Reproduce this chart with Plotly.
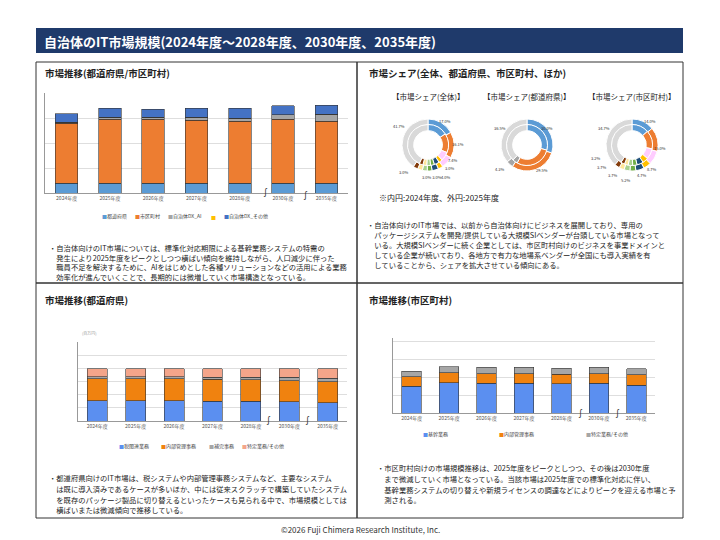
import plotly.graph_objects as go

W, H = 720, 540
OFF = 8  # browser body margin
def X(px): return (px - OFF) / W
def Y(py): return 1 - (py - OFF) / H

years = ["2024年度", "2025年度", "2026年度", "2027年度", "2028年度", "2030年度", "2035年度"]

# Chart 1: 都道府県/市区町村
c1_names = ["都道府県", "市区町村", "自治体DX_AI", "", "自治体DX_その他"]
c1_pref = [0.40, 0.40, 0.40, 0.40, 0.40, 0.40, 0.40]
c1_muni = [2.40, 2.56, 2.56, 2.51, 2.48, 2.55, 2.47]
c1_ai = [0.04, 0.08, 0.07, 0.12, 0.11, 0.19, 0.29]
c1_yel = [0.0, 0.0, 0.0, 0.0, 0.0, 0.0, 0.0]
c1_other = [0.33, 0.36, 0.33, 0.37, 0.41, 0.35, 0.36]
c1_colors = ["#5b9bd5", "#ed7d31", "#a5a5a5", "#ffc000", "#4472c4"]

# Chart 3: 都道府県
c3_names = ["税関連業務", "内部管理事務", "補完事務", "特定業務/その他"]
c3_tax = [1.52, 1.52, 1.52, 1.50, 1.50, 1.45, 1.40]
c3_int = [1.68, 1.68, 1.68, 1.66, 1.64, 1.62, 1.60]
c3_sup = [0.15, 0.15, 0.15, 0.17, 0.18, 0.25, 0.25]
c3_spc = [0.63, 0.63, 0.63, 0.64, 0.65, 0.65, 0.72]
c3_colors = ["#5b8ff0", "#f0820f", "#a6a6a6", "#f4a58a"]

# Chart 4: 市区町村
c4_names = ["基幹業務", "内部管理事務", "特定業務/その他"]
c4_core = [1.50, 1.70, 1.68, 1.68, 1.64, 1.68, 1.55]
c4_int = [0.53, 0.55, 0.53, 0.53, 0.53, 0.53, 0.58]
c4_spc = [0.32, 0.34, 0.34, 0.34, 0.34, 0.34, 0.34]
c4_colors = ["#5b8ff0", "#f0820f", "#a6a6a6"]

# Donuts
share_colors = ["#5b9bd5", "#ed7d31", "#ffccff", "#ffc000", "#1f4e79", "#70ad47",
                "#a9d18e", "#ffe699", "#843c0c", "#d9d9d9"]
all_out = [17.0, 16.1, 7.4, 3.0, 4.0, 3.0, 3.0, 3.0, 3.0, 40.5]
all_in = [16.0, 15.0, 7.0, 3.0, 4.0, 3.0, 3.0, 3.0, 3.0, 43.0]
pref_colors = ["#5b9bd5", "#ed7d31", "#a5a5a5", "#d9d9d9"]
pref_out = [30.0, 29.5, 4.3, 36.2]
pref_in = [29.0, 29.0, 4.0, 38.0]
muni_out = [14.0, 15.0, 8.7, 4.7, 5.2, 3.7, 3.7, 3.2, 3.2, 38.6]
muni_in = [13.5, 14.5, 8.5, 4.5, 5.0, 3.5, 3.5, 3.0, 3.0, 41.0]

fig = go.Figure()
font = "Noto Sans CJK JP"

def bars(names, series, colors, xa, ya):
    for n, s, c in zip(names, series, colors):
        fig.add_trace(go.Bar(x=years, y=s, name=n, marker=dict(color=c, line=dict(color="#333", width=0.6)),
                             width=0.52, xaxis=xa, yaxis=ya, showlegend=False))

bars(c1_names, [c1_pref, c1_muni, c1_ai, c1_yel, c1_other], c1_colors, "x", "y")
bars(c3_names, [c3_tax, c3_int, c3_sup, c3_spc], c3_colors, "x2", "y2")
bars(c4_names, [c4_core, c4_int, c4_spc], c4_colors, "x3", "y3")

def axes(i, x0, x1, y0, y1, rng, dt):
    xs = "xaxis" if i == 1 else f"xaxis{i}"
    ys = "yaxis" if i == 1 else f"yaxis{i}"
    fig.layout[xs] = dict(domain=[X(x0), X(x1)], anchor="y" if i == 1 else f"y{i}",
                          tickfont=dict(size=5, color="#555"), showline=True, linecolor="#999",
                          ticks="", fixedrange=True)
    fig.layout[ys] = dict(domain=[Y(y1), Y(y0)], anchor="x" if i == 1 else f"x{i}", range=rng, dtick=dt,
                          showticklabels=False, gridcolor="#dedede", showline=True, linecolor="#999",
                          zeroline=False)

axes(1, 45, 348, 93, 193, [0, 4], 1)
axes(2, 78, 347, 342, 421, [0, 6], 1)
axes(3, 393, 655, 338, 413, [0, 4.2], 1)
fig.update_layout(barmode="stack")

def donut(vals_out, vals_in, colors, cx, cy):
    ro, ri = 26, 20.5
    fig.add_trace(go.Pie(values=vals_out, marker=dict(colors=colors, line=dict(color="white", width=1)),
                         hole=0.78, sort=False, direction="clockwise", rotation=0, textinfo="none",
                         domain=dict(x=[X(cx - ro), X(cx + ro)], y=[Y(cy + ro), Y(cy - ro)]), showlegend=False))
    fig.add_trace(go.Pie(values=vals_in, marker=dict(colors=colors, line=dict(color="white", width=1)),
                         hole=0.7, sort=False, direction="clockwise", rotation=0, textinfo="none",
                         domain=dict(x=[X(cx - ri), X(cx + ri)], y=[Y(cy + ri), Y(cy - ri)]), showlegend=False))

donut(all_out, all_in, share_colors, 428, 145)
donut(pref_out, pref_in, pref_colors, 527, 145)
donut(muni_out, muni_in, share_colors, 632, 145)

ann = []
def T(px, py, text, size=7.5, color="#222", xanchor="left", bold=False):
    if bold:
        text = f"<b>{text}</b>"
    ann.append(dict(x=X(px), y=Y(py), xref="paper", yref="paper", text=text, showarrow=False,
                    xanchor=xanchor, yanchor="middle", font=dict(size=size, color=color, family=font)))

shapes = []
shapes.append(dict(type="rect", xref="paper", yref="paper", x0=X(36), x1=X(683), y0=Y(53), y1=Y(28),
                   fillcolor="#1f3a6b", line=dict(width=0)))
for (a, b, c, d) in [(36, 62, 357, 283), (357, 62, 683, 283), (36, 283, 357, 518), (357, 283, 683, 518)]:
    shapes.append(dict(type="rect", xref="paper", yref="paper", x0=X(a), x1=X(c), y0=Y(d), y1=Y(b),
                       line=dict(color="#333", width=1)))

T(42, 41, "自治体のIT市場規模(2024年度～2028年度、2030年度、2035年度)", size=13, color="white", bold=True)
T(43, 73, "市場推移(都道府県/市区町村)", size=9.5, bold=True)
T(367, 73, "市場シェア(全体、都道府県、市区町村、ほか)", size=9.5, bold=True)
T(43, 300, "市場推移(都道府県)", size=9.5, bold=True)
T(367, 300, "市場推移(市区町村)", size=9.5, bold=True)

T(428, 97, "【市場シェア(全体)】", size=7.5, xanchor="center")
T(527, 97, "【市場シェア(都道府県)】", size=7.5, xanchor="center")
T(632, 97, "【市場シェア(市区町村)】", size=7.5, xanchor="center")
T(377, 197, "※内円:2024年度、外円:2025年度", size=8)

def legend(items, py):
    for (px, col, lab) in items:
        T(px, py, f'<span style="color:{col}">■</span>{lab}', size=5, color="#444")

legend([(100, c1_colors[0], "都道府県"), (133, c1_colors[1], "市区町村"), (166, c1_colors[2], "自治体DX_AI"),
        (209, c1_colors[3], ""), (222, c1_colors[4], "自治体DX_その他")], 216)
legend([(117, c3_colors[0], "税関連業務"), (159, c3_colors[1], "内部管理事務"), (207, c3_colors[2], "補完事務"),
        (240, c3_colors[3], "特定業務/その他")], 446)
legend([(421, c4_colors[0], "基幹業務"), (497, c4_colors[1], "内部管理事務"), (584, c4_colors[2], "特定業務/その他")], 434)

T(80, 333, "(百万円)", size=4, color="#999")

# break marks
for (px, py) in [(265, 192), (305, 195), (268, 420), (307, 420), (580, 413), (617, 413)]:
    T(px, py, "∫", size=9, color="#333", xanchor="center")

# donut labels
for (px, py, t) in [(445, 121, "17.0%"), (458, 144, "16.1%"), (453, 160, "7.4%"), (450, 168, "3.0%"),
                    (446, 177, "4.0%"), (432, 177, "3.0% 3.0%"), (404, 172, "3.0%"), (399, 126, "41.7%"),
                    (547, 128, "30.0%"), (542, 170, "29.5%"), (500, 169, "4.3%"), (500, 128, "36.5%"),
                    (650, 121, "14.0%"), (660, 148, "15.0%"), (652, 169, "8.7%"), (642, 175, "4.7%"),
                    (626, 180, "5.2%"), (613, 175, "3.7%"), (602, 167, "3.7%"), (596, 158, "3.2%"),
                    (604, 128, "34.7%")]:
    T(px, py, t, size=4, color="#333", xanchor="center")

tl = ["・自治体向けのIT市場については、標準化対応期限による基幹業務システムの特需の",
      "　発生により2025年度をピークとしつつ横ばい傾向を維持しながら、人口減少に伴った",
      "　職員不足を解決するために、AIをはじめとした各種ソリューションなどの活用による業務",
      "　効率化が進んでいくことで、長期的には微増していく市場構造となっている。"]
tr = ["・自治体向けのIT市場では、以前から自治体向けにビジネスを展開しており、専用の",
      "　パッケージシステムを開発/提供している大規模SIベンダーが台頭している市場となって",
      "　いる。大規模SIベンダーに続く企業としては、市区町村向けのビジネスを事業ドメインと",
      "　している企業が続いており、各地方で有力な地場系ベンダーが全国にも導入実績を有",
      "　していることから、シェアを拡大させている傾向にある。"]
bl = ["・都道府県向けのIT市場は、税システムや内部管理事務システムなど、主要なシステム",
      "　は既に導入済みであるケースが多いほか、中には従来スクラッチで構築していたシステム",
      "　を既存のパッケージ製品に切り替えるといったケースも見られる中で、市場規模としては",
      "　横ばいまたは微減傾向で推移している。"]
br = ["・市区町村向けの市場規模推移は、2025年度をピークとしつつ、その後は2030年度",
      "　まで微減していく市場となっている。当該市場は2025年度での標準化対応に伴い、",
      "　基幹業務システムの切り替えや新規ライセンスの調達などによりピークを迎える市場と予",
      "　測される。"]
for lines, x0, y0, dy in [(tl, 47, 248, 9.5), (tr, 365, 225, 10), (bl, 47, 478, 10.8), (br, 375, 468, 10.8)]:
    for i, l in enumerate(lines):
        T(x0, y0 + i * dy, l, size=7.3)

T(360, 529, "©2026 Fuji Chimera Research Institute, Inc.", size=8, color="#333", xanchor="center")

fig.update_layout(width=W, height=H, margin=dict(l=0, r=0, t=0, b=0), paper_bgcolor="white",
                  plot_bgcolor="white", annotations=ann, shapes=shapes, font=dict(family=font),
                  showlegend=False)
fig.write_html("out.html")
